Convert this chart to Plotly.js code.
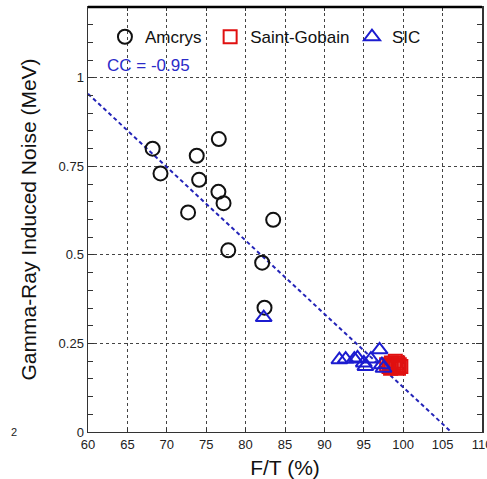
<!DOCTYPE html>
<html>
<head>
<meta charset="utf-8">
<script src="https://cdn.plot.ly/plotly-3.0.1.min.js"></script>
<style>html,body{margin:0;padding:0;background:#fff;}#chart{width:487px;height:479px;}</style>
</head>
<body>
<div id="chart"></div>
<script>
// Amcrys (black open circles)
const amcrysX = [68.2, 69.2, 72.7, 73.8, 74.1, 76.6, 76.55, 77.2, 77.8, 83.5, 82.1, 82.4];
const amcrysY = [0.80, 0.73, 0.62, 0.78, 0.712, 0.827, 0.678, 0.646, 0.513, 0.599, 0.478, 0.351];
// Saint-Gobain (red open squares)
const sgX = [97.9, 98.2, 98.5, 98.8, 99.1, 99.3, 99.5, 99.7, 98.4, 99.0, 99.4];
const sgY = [0.19, 0.185, 0.195, 0.19, 0.185, 0.195, 0.19, 0.185, 0.18, 0.2, 0.18];
// SIC (blue open triangles)
const sicX = [82.3, 91.9, 92.7, 93.8, 94.2, 95.0, 95.2, 95.9, 97.0, 97.3, 97.5];
const sicY = [0.323, 0.204, 0.206, 0.206, 0.209, 0.195, 0.185, 0.206, 0.232, 0.19, 0.18];
// Linear fit line
const fitX = [60, 106.1];
const fitY = [0.955, 0];
const ccLabel = 'CC = -0.95';
const xTicks = [60, 65, 70, 75, 80, 85, 90, 95, 100, 105, 110];

const traces = [
  {x: fitX, y: fitY, mode: 'lines', type: 'scatter', showlegend: false,
   line: {color: '#2424b8', width: 2, dash: '4px,3px'}, hoverinfo: 'skip'},
  {x: amcrysX, y: amcrysY, mode: 'markers', type: 'scatter', name: 'Amcrys', legend: 'legend',
   marker: {symbol: 'circle-open', size: 14, color: '#111', line: {width: 2, color: '#111'}}},
  {x: sgX, y: sgY, mode: 'markers', type: 'scatter', name: 'Saint-Gobain', legend: 'legend2',
   marker: {symbol: 'square-open', size: 13, color: '#e01010', line: {width: 2, color: '#e01010'}}},
  {x: sicX, y: sicY, mode: 'markers', type: 'scatter', name: 'SIC', legend: 'legend3',
   marker: {symbol: 'triangle-up-open', size: 14, color: '#1c1cd0', line: {width: 2, color: '#1c1cd0'}}}
];

const legFont = {family: 'Arial, Liberation Sans, sans-serif', size: 17, color: '#111'};
const legBase = {orientation: 'h', yanchor: 'middle', xanchor: 'left', y: 0.929,
  bgcolor: 'rgba(0,0,0,0)', borderwidth: 0, font: legFont};

const layout = {
  width: 487, height: 479,
  margin: {l: 88, r: 5, t: 7, b: 47, pad: 0},
  paper_bgcolor: '#fff', plot_bgcolor: '#fff',
  font: {family: 'Arial, Liberation Sans, sans-serif', color: '#222'},
  xaxis: {
    range: [60, 110], tickmode: 'array', tickvals: xTicks, ticktext: xTicks.map(String),
    ticks: 'inside', ticklen: 4, tickcolor: '#333', ticklabeloverflow: 'allow',
    showline: true, linecolor: '#333', linewidth: 1, mirror: 'ticks',
    showgrid: true, gridcolor: '#444', griddash: 'dot', gridwidth: 1, zeroline: false,
    tickfont: {size: 13, color: '#222'},
    title: {text: 'F/T (%)', font: {size: 21, color: '#111'}, standoff: 9}
  },
  yaxis: {
    range: [0, 1.2], tick0: 0, dtick: 0.25, ticks: 'inside', ticklen: 6, tickcolor: '#333',
    minor: {dtick: 0.05, tick0: 0, ticks: 'inside', ticklen: 5, tickcolor: '#333', showgrid: false},
    showline: true, linecolor: '#333', linewidth: 1.5, mirror: 'allticks',
    showgrid: true, gridcolor: '#444', griddash: 'dot', gridwidth: 1, zeroline: false,
    tickfont: {size: 13, color: '#222'},
    title: {text: 'Gamma-Ray Induced Noise (MeV)', font: {size: 21, color: '#111'}, standoff: 16}
  },
  legend: Object.assign({}, legBase, {x: 0.043}),
  legend2: Object.assign({}, legBase, {x: 0.31}),
  legend3: Object.assign({}, legBase, {x: 0.670}),
  shapes: [
    {type: 'line', xref: 'paper', yref: 'paper', x0: 0, x1: 1, y0: 1, y1: 1,
     line: {color: '#000', width: 2.5}}
  ],
  annotations: [
    {text: ccLabel, x: 62.1, y: 1.034, xref: 'x', yref: 'y', xanchor: 'left', yanchor: 'middle',
     showarrow: false, font: {size: 17, color: '#2b2bc8'}},
    {text: '2', x: -0.188, y: 0, xref: 'paper', yref: 'paper', xanchor: 'center', yanchor: 'middle',
     showarrow: false, font: {size: 11, color: '#222'}}
  ],
  showlegend: true
};

Plotly.newPlot('chart', traces, layout, {displayModeBar: false, staticPlot: true});
</script>
</body>
</html>
